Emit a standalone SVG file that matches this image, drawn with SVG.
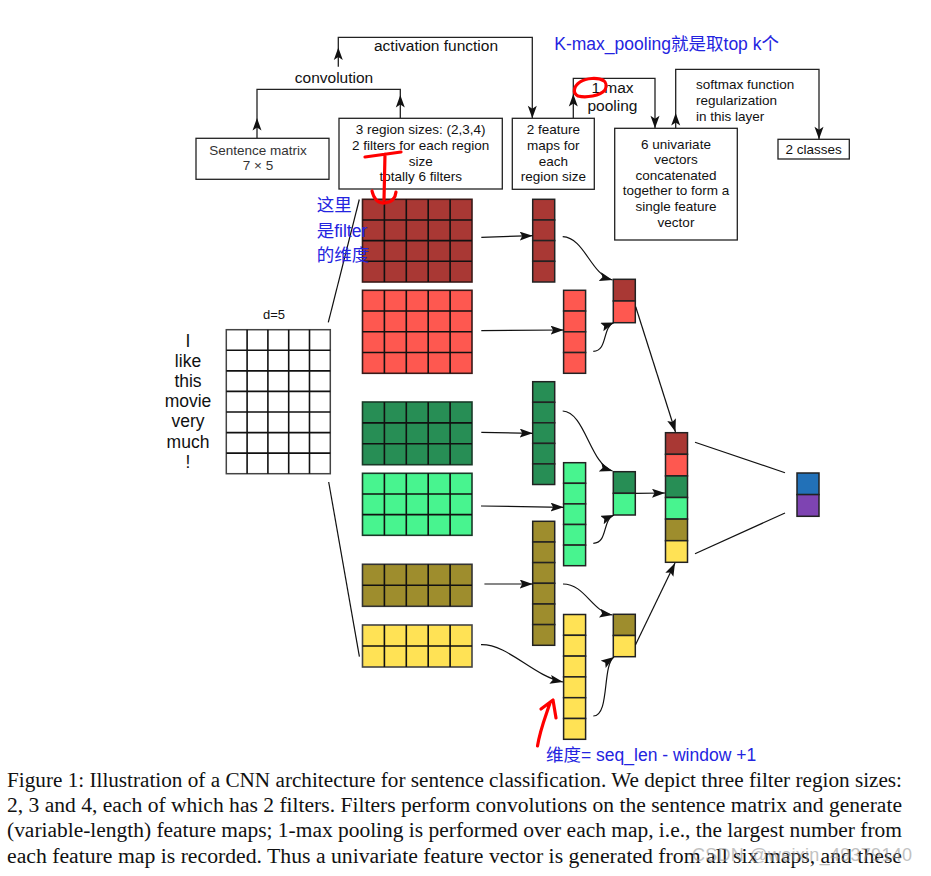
<svg xmlns="http://www.w3.org/2000/svg" width="931" height="876" viewBox="0 0 931 876">
<style>
.t{font-family:"Liberation Sans",Arial,sans-serif;fill:#111;}
.s13{font-size:13.5px;}
.s15{font-size:15.5px;}
.blue{font-family:"Liberation Sans","Noto Sans CJK SC",sans-serif;fill:#2424e0;font-size:17.5px;}
.box{fill:#fff;stroke:#222;stroke-width:1.3;}
.ln{fill:none;stroke:#222;stroke-width:1.3;}
.ah{fill:#111;}
.grid{fill:none;stroke:#111;stroke-width:1.6;}
.cell{stroke:#222;stroke-width:1.5;}
.red{fill:none;stroke:#ff0000;stroke-width:3.2;stroke-linecap:round;stroke-linejoin:round;}
.c1{fill:#A93834;}.c2{fill:#FE5850;}.c3{fill:#278E55;}.c4{fill:#48F48F;}.c5{fill:#9E8D2D;}.c6{fill:#FFE255;}
.cap{font-family:"Liberation Serif","Times New Roman",serif;font-size:20.5px;fill:#111;}
</style>
<defs>
<marker id="arr" markerUnits="userSpaceOnUse" markerWidth="14" markerHeight="10" refX="13" refY="4.5" orient="auto">
<path d="M0,0 L13,4.5 L0,9 L2.5,4.5 z" fill="#111"/>
</marker>
</defs>
<rect width="931" height="876" fill="#fff"/>

<!-- top connectors -->
<g id="top-connectors">
<path class="ln" d="M257,138.3 V89.3 H400.3 V118.3"/>
<polygon class="ah" points="257,118 252.5,130.5 257,127.5 261.5,130.5"/>
<polygon class="ah" points="400.3,95 395.8,107.5 400.3,104.5 404.8,107.5"/>
<path class="ln" d="M338.3,66.7 V37.3 H532.3 V118.3"/>
<polygon class="ah" points="338.3,47.5 333.8,60 338.3,57 342.8,60"/>
<polygon class="ah" points="532.3,118.3 527.8,105.8 532.3,108.8 536.8,105.8"/>
<path class="ln" d="M573.3,118.3 V78.3 H655 V128.3"/>
<polygon class="ah" points="573.3,94 568.8,106.5 573.3,103.5 577.8,106.5"/>
<polygon class="ah" points="655,128.3 650.5,115.8 655,118.8 659.5,115.8"/>
<path class="ln" d="M675.7,128.3 V69.3 H819 V139.3"/>
<polygon class="ah" points="675.7,113 671.2,125.5 675.7,122.5 680.2,125.5"/>
<polygon class="ah" points="819,139.3 814.5,126.8 819,129.8 823.5,126.8"/>
<text class="t s15" x="334" y="82.7" text-anchor="middle">convolution</text>
<text class="t s15" x="436" y="51.3" text-anchor="middle">activation function</text>
<text class="t s15" x="612.5" y="92.7" text-anchor="middle">1 max</text>
<text class="t s15" x="612.5" y="111" text-anchor="middle">pooling</text>
<text class="t s13" x="696" y="89.3">softmax function</text>
<text class="t s13" x="696" y="105">regularization</text>
<text class="t s13" x="696" y="121">in this layer</text>
</g>

<g id="sentence-box">
<rect class="box" x="196" y="138.3" width="133" height="41"/>
<text class="t s13" x="258" y="154.5" text-anchor="middle" style="fill:#333">Sentence matrix</text>
<text class="t s13" x="258" y="170.3" text-anchor="middle" style="fill:#333">7 × 5</text>
</g>
<g id="region-box">
<rect class="box" x="339" y="118.3" width="163.3" height="70.7"/>
<text class="t s13" x="420.7" y="134.3" text-anchor="middle">3 region sizes: (2,3,4)</text>
<text class="t s13" x="420.7" y="150" text-anchor="middle">2 filters for each region</text>
<text class="t s13" x="420.7" y="165.7" text-anchor="middle">size</text>
<text class="t s13" x="420.7" y="181.3" text-anchor="middle">totally 6 filters</text>
</g>
<g id="featuremaps-box">
<rect class="box" x="512.3" y="118.3" width="82" height="71"/>
<text class="t s13" x="553.3" y="134.3" text-anchor="middle">2 feature</text>
<text class="t s13" x="553.3" y="150" text-anchor="middle">maps for</text>
<text class="t s13" x="553.3" y="165.5" text-anchor="middle">each</text>
<text class="t s13" x="553.3" y="181.3" text-anchor="middle">region size</text>
</g>
<g id="univariate-box">
<rect class="box" x="614.7" y="128.3" width="122.6" height="111.7"/>
<text class="t s13" x="676" y="148.5" text-anchor="middle">6 univariate</text>
<text class="t s13" x="676" y="164.2" text-anchor="middle">vectors</text>
<text class="t s13" x="676" y="179.8" text-anchor="middle">concatenated</text>
<text class="t s13" x="676" y="195.3" text-anchor="middle">together to form a</text>
<text class="t s13" x="676" y="211" text-anchor="middle">single feature</text>
<text class="t s13" x="676" y="226.8" text-anchor="middle">vector</text>
</g>
<g id="classes-box">
<rect class="box" x="778" y="139.3" width="71.3" height="19.7"/>
<text class="t s13" x="813.7" y="153.8" text-anchor="middle">2 classes</text>
</g>

<!-- sentence matrix -->
<g id="sentence-matrix">
<text class="t" x="274" y="319" text-anchor="middle" style="font-size:13px">d=5</text>
<g class="t" style="font-size:17.5px" text-anchor="middle">
<text x="188" y="346.7">I</text>
<text x="188" y="366.8">like</text>
<text x="188" y="387">this</text>
<text x="188" y="407.2">movie</text>
<text x="188" y="427.3">very</text>
<text x="188" y="447.5">much</text>
<text x="188" y="467.7">!</text>
</g>
<rect x="226.3" y="329.7" width="104" height="144" fill="#fff" stroke="#444" stroke-width="1.5"/>
<path class="grid" d="M247.1,329.7V473.7M267.9,329.7V473.7M288.7,329.7V473.7M309.5,329.7V473.7M226.3,350.3H330.3M226.3,370.9H330.3M226.3,391.4H330.3M226.3,412H330.3M226.3,432.6H330.3M226.3,453.1H330.3"/>
</g>

<!-- filter matrices -->
<g id="filter-1">
<rect class="c1" x="362.5" y="199.3" width="109.5" height="82.7" stroke="#3a1a18" stroke-width="1.6"/>
<path class="grid" d="M384.4,199.3V282M406.3,199.3V282M428.2,199.3V282M450.1,199.3V282M362.5,220H472M362.5,240.6H472M362.5,261.3H472"/>
</g>
<g id="filter-2">
<rect class="c2" x="362.5" y="290.3" width="109.5" height="83" stroke="#3a1a18" stroke-width="1.6"/>
<path class="grid" d="M384.4,290.3V373.3M406.3,290.3V373.3M428.2,290.3V373.3M450.1,290.3V373.3M362.5,311.05H472M362.5,331.8H472M362.5,352.55H472"/>
</g>
<g id="filter-3">
<rect class="c3" x="362.5" y="402" width="109.5" height="62.7" stroke="#1a3a28" stroke-width="1.6"/>
<path class="grid" d="M384.4,402V464.7M406.3,402V464.7M428.2,402V464.7M450.1,402V464.7M362.5,422.9H472M362.5,443.8H472"/>
</g>
<g id="filter-4">
<rect class="c4" x="362.5" y="473.3" width="109.5" height="62" stroke="#1a3a28" stroke-width="1.6"/>
<path class="grid" d="M384.4,473.3V535.3M406.3,473.3V535.3M428.2,473.3V535.3M450.1,473.3V535.3M362.5,494H472M362.5,514.6H472"/>
</g>
<g id="filter-5">
<rect class="c5" x="362.5" y="564.3" width="109.5" height="42" stroke="#333" stroke-width="1.6"/>
<path class="grid" d="M384.4,564.3V606.3M406.3,564.3V606.3M428.2,564.3V606.3M450.1,564.3V606.3M362.5,585.3H472"/>
</g>
<g id="filter-6">
<rect class="c6" x="362.5" y="625" width="109.5" height="42" stroke="#444" stroke-width="1.6"/>
<path class="grid" d="M384.4,625V667M406.3,625V667M428.2,625V667M450.1,625V667M362.5,646H472"/>
</g>

<!-- feature maps -->
<g id="map-1">
<rect class="c1 cell" x="532.7" y="199.3" width="22" height="20.7"/>
<rect class="c1 cell" x="532.7" y="220" width="22" height="20.6"/>
<rect class="c1 cell" x="532.7" y="240.6" width="22" height="20.7"/>
<rect class="c1 cell" x="532.7" y="261.3" width="22" height="20.7"/>
</g>
<g id="map-2">
<rect class="c2 cell" x="563.6" y="290.3" width="22" height="20.75"/>
<rect class="c2 cell" x="563.6" y="311.05" width="22" height="20.75"/>
<rect class="c2 cell" x="563.6" y="331.8" width="22" height="20.75"/>
<rect class="c2 cell" x="563.6" y="352.55" width="22" height="20.75"/>
</g>
<g id="map-3">
<rect class="c3 cell" x="532.7" y="381.7" width="22" height="20.6"/>
<rect class="c3 cell" x="532.7" y="402.3" width="22" height="20.5"/>
<rect class="c3 cell" x="532.7" y="422.8" width="22" height="20.6"/>
<rect class="c3 cell" x="532.7" y="443.4" width="22" height="20.5"/>
<rect class="c3 cell" x="532.7" y="463.9" width="22" height="20.6"/>
</g>
<g id="map-4">
<rect class="c4 cell" x="563.6" y="462.7" width="22" height="20.6"/>
<rect class="c4 cell" x="563.6" y="483.3" width="22" height="20.6"/>
<rect class="c4 cell" x="563.6" y="503.9" width="22" height="20.6"/>
<rect class="c4 cell" x="563.6" y="524.5" width="22" height="20.6"/>
<rect class="c4 cell" x="563.6" y="545.1" width="22" height="20.6"/>
</g>
<g id="map-5">
<rect class="c5 cell" x="532.7" y="521.3" width="22" height="20.7"/>
<rect class="c5 cell" x="532.7" y="542" width="22" height="20.6"/>
<rect class="c5 cell" x="532.7" y="562.6" width="22" height="20.7"/>
<rect class="c5 cell" x="532.7" y="583.3" width="22" height="20.7"/>
<rect class="c5 cell" x="532.7" y="604" width="22" height="20.6"/>
<rect class="c5 cell" x="532.7" y="624.6" width="22" height="20.7"/>
</g>
<g id="map-6">
<rect class="c6 cell" x="563.6" y="614.5" width="22" height="20.8"/>
<rect class="c6 cell" x="563.6" y="635.3" width="22" height="20.8"/>
<rect class="c6 cell" x="563.6" y="656.1" width="22" height="20.8"/>
<rect class="c6 cell" x="563.6" y="676.9" width="22" height="20.8"/>
<rect class="c6 cell" x="563.6" y="697.7" width="22" height="20.8"/>
<rect class="c6 cell" x="563.6" y="718.5" width="22" height="20.8"/>
</g>

<!-- pooled -->
<g id="pooled-1">
<rect class="c1 cell" x="613.3" y="279.3" width="22" height="21.7"/>
<rect class="c2 cell" x="613.3" y="301" width="22" height="21.7"/>
</g>
<g id="pooled-2">
<rect class="c3 cell" x="613.3" y="471.7" width="22" height="21.6"/>
<rect class="c4 cell" x="613.3" y="493.3" width="22" height="21.7"/>
</g>
<g id="pooled-3">
<rect class="c5 cell" x="613.3" y="614.3" width="22" height="21.2"/>
<rect class="c6 cell" x="613.3" y="635.5" width="22" height="21.2"/>
</g>

<!-- concatenated -->
<g id="concat">
<rect class="c1 cell" x="665.5" y="432.7" width="22" height="21.6"/>
<rect class="c2 cell" x="665.5" y="454.3" width="22" height="21.6"/>
<rect class="c3 cell" x="665.5" y="475.9" width="22" height="21.6"/>
<rect class="c4 cell" x="665.5" y="497.5" width="22" height="21.6"/>
<rect class="c5 cell" x="665.5" y="519.1" width="22" height="21.6"/>
<rect class="c6 cell" x="665.5" y="540.7" width="22" height="21.6"/>
</g>

<g id="output">
<rect x="797" y="473" width="22" height="21.6" fill="#2271B8" class="cell"/>
<rect x="797" y="494.6" width="22" height="21.7" fill="#7E44B2" class="cell"/>
</g>

<!-- connectors -->
<g id="connectors" fill="none" stroke="#111" stroke-width="1.2">
<path d="M328.3,322.3 L359.3,199.5"/>
<path d="M328.7,482 L359.4,656.7"/>
<path d="M481.3,237.3 L532.7,235.7" marker-end="url(#arr)"/>
<path d="M481.3,330.7 L563.6,330" marker-end="url(#arr)"/>
<path d="M481.3,432.3 L532.7,433.3" marker-end="url(#arr)"/>
<path d="M481,506 L563.6,507.3" marker-end="url(#arr)"/>
<path d="M484.4,584 L532.7,584" marker-end="url(#arr)"/>
<path d="M481,644.7 C508,644 533,676 563,682" marker-end="url(#arr)"/>
<path d="M562.7,236.7 C585,238 590,274 612.5,280" marker-end="url(#arr)"/>
<path d="M593.3,351.3 C608,351 602,327 614,322.5" marker-end="url(#arr)"/>
<path d="M562.7,411 C585,412 590,464 612.5,471" marker-end="url(#arr)"/>
<path d="M593.3,543.3 C608,543 602,520 614,515" marker-end="url(#arr)"/>
<path d="M563,584 C585,584 592,612 612.5,615" marker-end="url(#arr)"/>
<path d="M593.3,716 C610,716 602,665 614,657" marker-end="url(#arr)"/>
<path d="M635.7,306.7 L675.5,432" marker-end="url(#arr)"/>
<path d="M635.3,493.3 L665,493" marker-end="url(#arr)"/>
<path d="M635.4,645 L675,563" marker-end="url(#arr)"/>
<path d="M695,442.3 L785,472.7"/>
<path d="M695,553.7 L785,513"/>
</g>

<!-- annotations -->
<g id="annotations">
<text class="blue" x="554.3" y="49.5">K-max_pooling就是取top k个</text>
<text class="blue" x="316.7" y="211">这里</text>
<text class="blue" x="316.7" y="236.7">是filter</text>
<text class="blue" x="316.7" y="261">的维度</text>
<text class="blue" x="546" y="760.5">维度= seq_len - window +1</text>
<path class="red" d="M604,81 C598,77 586,78 580,82 C574,86 572,93 578,96 C586,98 600,96 605,90 C607,86 606,82 603,80"/>
<path class="red" d="M365,157 L401,152 M385,154 L384,200 M372,191 Q375,204 385,203 Q395,202 396,192"/>
<path class="red" d="M537.5,746 C540,730 545,718 550,703 M541,709 L553,700 L556,718"/>
</g>

<!-- caption -->
<g id="caption">
<text class="cap" x="7" y="786.7" textLength="895" lengthAdjust="spacingAndGlyphs">Figure 1: Illustration of a CNN architecture for sentence classification. We depict three filter region sizes:</text>
<text class="cap" x="7" y="812" textLength="895" lengthAdjust="spacingAndGlyphs">2, 3 and 4, each of which has 2 filters. Filters perform convolutions on the sentence matrix and generate</text>
<text class="cap" x="7" y="837.4" textLength="895" lengthAdjust="spacingAndGlyphs">(variable-length) feature maps; 1-max pooling is performed over each map, i.e., the largest number from</text>
<text class="cap" x="7" y="862.8" textLength="895" lengthAdjust="spacingAndGlyphs">each feature map is recorded. Thus a univariate feature vector is generated from all six maps, and these</text>
<text x="692" y="861" textLength="220" style="font-family:'Liberation Sans',Arial,sans-serif;font-size:18px;fill:#999;opacity:0.6">CSDN @weixin_49379140</text>
</g>
</svg>
